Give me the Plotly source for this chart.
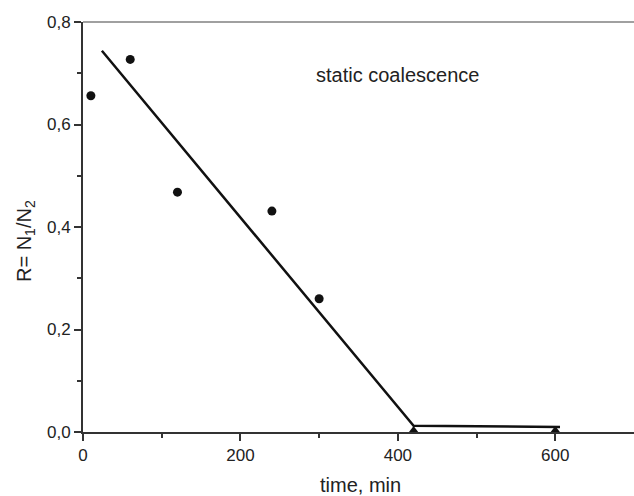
import plotly.graph_objects as go

# Data
time_pts = [10, 60, 120, 240, 300]
r_pts = [0.656, 0.727, 0.468, 0.431, 0.260]
time_zero = [420, 600]
r_zero = [0.004, 0.004]
fit_x = [24, 420, 606]
fit_y = [0.744, 0.012, 0.010]
x_tickvals = [0, 200, 400, 600]
x_ticktext = ["0", "200", "400", "600"]
y_tickvals = [0.0, 0.2, 0.4, 0.6, 0.8]
y_ticktext = ["0,0", "0,2", "0,4", "0,6", "0,8"]

FONT = "Liberation Sans, Arial, sans-serif"
TXT = "#222222"
AX = "#333333"

fig = go.Figure()
fig.add_trace(go.Scatter(x=fit_x, y=fit_y, mode="lines",
                         line=dict(color="#111111", width=2.5), showlegend=False))
fig.add_trace(go.Scatter(x=time_pts, y=r_pts, mode="markers",
                         marker=dict(symbol="circle", size=9, color="#111111"),
                         showlegend=False))
fig.add_trace(go.Scatter(x=time_zero, y=r_zero, mode="markers", cliponaxis=False,
                         marker=dict(symbol="triangle-up", size=8, color="#111111"),
                         showlegend=False))

fig.update_layout(
    width=634, height=496,
    margin=dict(l=83, r=0, t=22, b=64),
    paper_bgcolor="white", plot_bgcolor="white",
    font=dict(family=FONT, color=TXT, size=17),
    xaxis=dict(range=[0, 700], tickvals=x_tickvals, ticktext=x_ticktext,
               showgrid=False, zeroline=False, showline=True, linecolor=AX, linewidth=2,
               ticks="outside", ticklen=7, tickwidth=1.5, tickcolor=AX,
               minor=dict(tickvals=[100, 300, 500], ticks="outside", ticklen=4,
                          tickwidth=1.5, tickcolor=AX),
               tickfont=dict(size=17, color=TXT)),
    yaxis=dict(range=[0, 0.8], tickvals=y_tickvals, ticktext=y_ticktext,
               showgrid=False, zeroline=False, showline=True, linecolor=AX, linewidth=2,
               ticks="outside", ticklen=7, tickwidth=1.5, tickcolor=AX,
               minor=dict(tickvals=[0.1, 0.3, 0.5, 0.7], ticks="outside", ticklen=4,
                          tickwidth=1.5, tickcolor=AX),
               tickfont=dict(size=17, color=TXT)),
    shapes=[dict(type="line", xref="paper", yref="paper", x0=0, x1=1, y0=1, y1=1,
                 line=dict(color="#808080", width=1.5))],
    annotations=[
        dict(x=400, y=0.697, xref="x", yref="y", text="static coalescence",
             showarrow=False, font=dict(size=20, color=TXT), xanchor="center", yanchor="middle"),
        dict(x=(360 - 83) / 551, y=(432 - 485) / 410, xref="paper", yref="paper",
             text="time, min", showarrow=False, font=dict(size=20, color=TXT),
             xanchor="center", yanchor="middle"),
        dict(x=(25 - 83) / 551, y=(432 - 241) / 410, xref="paper", yref="paper",
             text="R= N<sub>1</sub>/N<sub>2</sub>", textangle=-90, showarrow=False,
             font=dict(size=20, color=TXT), xanchor="center", yanchor="middle"),
    ],
)

fig.write_html("out.html")
